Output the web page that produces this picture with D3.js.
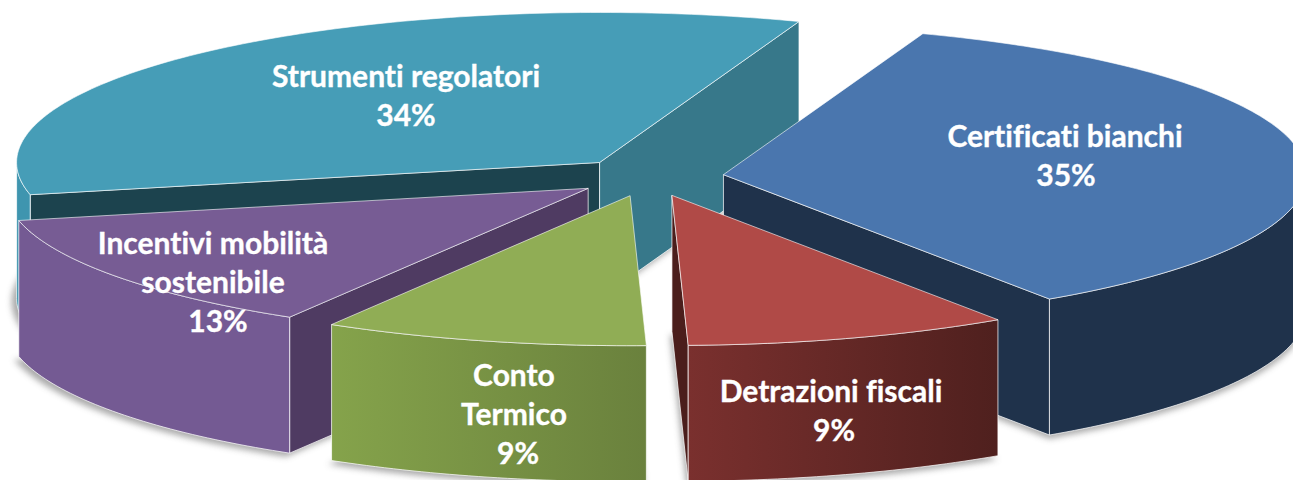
<!DOCTYPE html>
<html><head><meta charset="utf-8">
<script src="https://cdn.jsdelivr.net/npm/d3@7/dist/d3.min.js"></script>
<style>html,body{margin:0;background:#fff;overflow:hidden}svg{display:block}
text{font-family:Lato,"Open Sans",sans-serif;font-weight:700;fill:#fff;stroke:#fff;stroke-width:.35px;text-anchor:middle;font-variant-ligatures:none}</style>
</head><body>
<script>
const categories=["Certificati bianchi","Detrazioni fiscali","Conto Termico","Incentivi mobilità sostenibile","Strumenti regolatori"];
const values=[35,9,9,13,34];
const labelLines=[["Certificati bianchi","35%"],["Detrazioni fiscali","9%"],["Conto","Termico","9%"],["Incentivi mobilità","sostenibile","13%"],["Strumenti regolatori","34%"]];
const labelX=[1065,831,514,213,406];
const labelY=[147,402,386,254,87];
const percentShift=[1,3,4,5,0];
const topColors=["#4A76AE","#B04A47","#90AD55","#775C94","#469DB7"];
const startFaceColors=["#1F324B","#4B1E1C","#6F8A3F","#4F3B62","#1C434E"];
const endFaceColors=["#1F324B","#4B1E1C","#6F8A3F","#4F3B62","#37788A"];
const wallStops=[["#1F324B","#1F324B"],["#7A302E","#4F201E"],["#85A34B","#6A813D"],["#745A93","#745A93"],["#3F95AF","#3F95AF"]];

const W=1293,H=480,cx=649,cy=177,rx=583,ry=150,explode=75,depth=136;
const svg=d3.select("body").append("svg").attr("width",W).attr("height",H);
const defs=svg.append("defs");
defs.append("filter").attr("id","soft").attr("x","-10%").attr("y","-10%").attr("width","120%").attr("height","120%")
  .append("feGaussianBlur").attr("stdDeviation",3);
const rad=d=>d*Math.PI/180;
const pie=d3.pie().sort(null).startAngle(rad(20)).endAngle(rad(380));
const arcs=pie(values);
const sx=d3.scaleLinear().domain([-1,1]).range([-rx,rx]);
const sy=d3.scaleLinear().domain([-1,1]).range([-ry,ry]);
const line=d3.line();
const slices=arcs.map((a,i)=>{
  const mid=(a.startAngle+a.endAngle)/2;
  const ox=cx+explode*Math.sin(mid), oy=cy-explode*Math.cos(mid)*ry/rx;
  const P=(t,z=0,k=1)=>[ox+k*sx(Math.sin(t)), oy+k*sy(-Math.cos(t))+z];
  return {i,a0:a.startAngle,a1:a.endAngle,ox,oy,P};
});
const arcPts=(s,a,b,z=0,k=1)=>{const n=Math.max(2,Math.ceil((b-a)/rad(1)));return d3.range(n+1).map(j=>s.P(a+(b-a)*j/n,z,k));};
const order=slices.slice().sort((p,q)=>d3.ascending(p.oy,q.oy));

// floor shadows
svg.append("g").attr("filter","url(#soft)").attr("opacity",.5).attr("transform","translate(-2,3)")
  .selectAll("path").data(order).join("path")
  .attr("fill","#555")
  .attr("d",s=>line([[s.ox,s.oy+depth],...arcPts(s,s.a0,s.a1,depth,1.005)])+"Z");

slices.forEach(s=>{
  const g=defs.append("linearGradient").attr("id","wall"+s.i).attr("gradientUnits","userSpaceOnUse");
  const xs=arcPts(s,s.a0,s.a1).map(p=>p[0]);
  g.attr("x1",d3.min(xs)).attr("x2",d3.max(xs)).attr("y1",0).attr("y2",0);
  g.append("stop").attr("offset",0).attr("stop-color",wallStops[s.i][0]);
  g.append("stop").attr("offset",1).attr("stop-color",wallStops[s.i][1]);
});
const edge="rgba(255,255,255,.72)";
const gs=svg.append("g").selectAll("g").data(order).join("g");
gs.each(function(s){
  const g=d3.select(this), O=[s.ox,s.oy], OB=[s.ox,s.oy+depth];
  const quad=(t,c)=>g.append("path").attr("d",line([O,s.P(t),s.P(t,depth),OB])+"Z").attr("fill",c).attr("stroke",edge).attr("stroke-width",1);
  if(Math.sin(s.a0)<0) quad(s.a0,startFaceColors[s.i]);
  if(Math.sin(s.a1)>0) quad(s.a1,endFaceColors[s.i]);
  const lo=Math.max(s.a0,rad(90)), hi=Math.min(s.a1,rad(270));
  if(hi>lo){
    g.append("path").attr("d",line([...arcPts(s,lo,hi),...arcPts(s,lo,hi,depth).reverse()])+"Z")
      .attr("fill",`url(#wall${s.i})`).attr("stroke",edge).attr("stroke-width",1);
  }
  g.append("path").attr("d",line([O,...arcPts(s,s.a0,s.a1)])+"Z")
    .attr("fill",topColors[s.i]).attr("stroke","rgba(255,255,255,.6)").attr("stroke-width",1).attr("stroke-linejoin","round");
});
const lh=39;
svg.append("g").selectAll("text").data(labelLines).join("text")
  .attr("font-size",30)
  .each(function(lines,i){
    d3.select(this).selectAll("tspan").data(lines).join("tspan")
      .attr("x",(d,j)=>labelX[i]+(j===lines.length-1?percentShift[i]:0)).attr("y",(d,j)=>labelY[i]+j*lh).text(d=>d);
  });
</script>
</body></html>
